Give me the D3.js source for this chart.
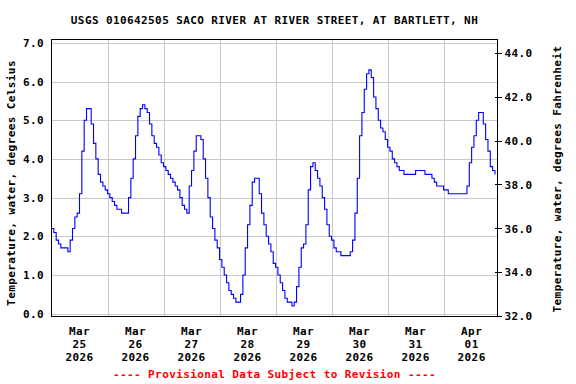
<!DOCTYPE html>
<html>
<head>
<meta charset="utf-8">
<script src="https://cdn.jsdelivr.net/npm/d3@7"></script>
<style>
  html, body { margin: 0; padding: 0; background: #fff; }
  svg { display: block; }
  text { font-family: "DejaVu Sans Mono", "Liberation Mono", monospace; font-weight: bold; font-size: 11px; letter-spacing: 0.4px; }
</style>
</head>
<body>
<svg id="chart" width="576" height="384"></svg>
<script>
// ---- Data ----
const title = "USGS 010642505 SACO RIVER AT RIVER STREET, AT BARTLETT, NH";
const leftAxisTitle = "Temperature, water, degrees Celsius";
const rightAxisTitle = "Temperature, water, degrees Fahrenheit";
const footnote = "---- Provisional Data Subject to Revision ----";

const seriesStart = Date.UTC(2026, 2, 25, 0, 0);   // first reading, Mar 25 2026 00:00
const stepHours = 1;                                 // hourly readings
// Water temperature, degrees Celsius (hourly)
const tempC = [
  2.2, 2.1, 1.9, 1.8, 1.7, 1.7, 1.7, 1.6, 1.9, 2.2, 2.5, 2.6, 3.1, 4.2, 5.0, 5.3,
  5.3, 4.9, 4.4, 4.0, 3.6, 3.4, 3.3, 3.2, 3.1, 3.0, 2.9, 2.8, 2.7, 2.7, 2.6, 2.6,
  2.6, 3.0, 3.5, 4.0, 4.6, 5.1, 5.3, 5.4, 5.3, 5.2, 4.9, 4.6, 4.4, 4.3, 4.1, 3.9,
  3.8, 3.7, 3.6, 3.5, 3.4, 3.3, 3.2, 3.0, 2.8, 2.7, 2.6, 3.3, 3.7, 4.2, 4.6, 4.6,
  4.5, 4.0, 3.5, 3.0, 2.5, 2.2, 1.9, 1.7, 1.4, 1.2, 1.0, 0.8, 0.6, 0.5, 0.4, 0.3,
  0.3, 0.5, 1.0, 1.7, 2.3, 2.8, 3.4, 3.5, 3.5, 3.1, 2.6, 2.3, 2.0, 1.8, 1.6, 1.3,
  1.2, 1.0, 0.8, 0.6, 0.4, 0.3, 0.3, 0.2, 0.3, 0.7, 1.2, 1.7, 1.8, 2.3, 3.2, 3.8,
  3.9, 3.7, 3.5, 3.3, 3.0, 2.7, 2.3, 2.0, 1.9, 1.7, 1.6, 1.6, 1.5, 1.5, 1.5, 1.5,
  1.6, 1.9, 2.6, 3.5, 4.6, 5.2, 5.8, 6.2, 6.3, 6.1, 5.6, 5.3, 5.0, 4.8, 4.7, 4.5,
  4.3, 4.2, 4.0, 3.9, 3.8, 3.7, 3.7, 3.6, 3.6, 3.6, 3.6, 3.6, 3.7, 3.7, 3.7, 3.7,
  3.6, 3.6, 3.6, 3.5, 3.4, 3.3, 3.3, 3.3, 3.2, 3.2, 3.1, 3.1, 3.1, 3.1, 3.1, 3.1,
  3.1, 3.1, 3.3, 3.9, 4.3, 4.6, 5.0, 5.2, 5.2, 4.9, 4.5, 4.2, 3.8, 3.7, 3.6
];

const tickMonths = ["Mar", "Mar", "Mar", "Mar", "Mar", "Mar", "Mar", "Apr"];
const tickDays   = ["25", "26", "27", "28", "29", "30", "31", "01"];
const tickYears  = ["2026", "2026", "2026", "2026", "2026", "2026", "2026", "2026"];
const tickDates = [
  Date.UTC(2026, 2, 25, 12), Date.UTC(2026, 2, 26, 12), Date.UTC(2026, 2, 27, 12),
  Date.UTC(2026, 2, 28, 12), Date.UTC(2026, 2, 29, 12), Date.UTC(2026, 2, 30, 12),
  Date.UTC(2026, 2, 31, 12), Date.UTC(2026, 3, 1, 12)
];
const dayBoundaries = [
  Date.UTC(2026, 2, 26), Date.UTC(2026, 2, 27), Date.UTC(2026, 2, 28),
  Date.UTC(2026, 2, 29), Date.UTC(2026, 2, 30), Date.UTC(2026, 2, 31), Date.UTC(2026, 3, 1)
];
const celsiusTicks = [0, 1, 2, 3, 4, 5, 6, 7];
const fahrenheitTicks = [32, 34, 36, 38, 40, 42, 44];

// ---- Layout ----
const frame = { left: 51.5, right: 497.5, top: 39.5, bottom: 316.5 };
const svg = d3.select("#chart");

const x = d3.scaleUtc()
  .domain([new Date(Date.UTC(2026, 2, 25, 0)), new Date(Date.UTC(2026, 3, 1, 23))])
  .range([51.5, 497.3]);
const yC = d3.scaleLinear().domain([0, 7]).range([313.7, 42.8]);
const yF = d3.scaleLinear().domain([32, 44]).range([316, 52.8]);

const data = tempC.map((v, i) => ({ t: new Date(seriesStart + i * stepHours * 3600e3), v }));

// gridlines
const grid = svg.append("g").attr("stroke", "#c8c8c8").attr("stroke-width", 1).attr("shape-rendering", "crispEdges");
grid.selectAll("line.h").data(celsiusTicks).join("line")
  .attr("x1", frame.left).attr("x2", frame.right)
  .attr("y1", d => Math.round(yC(d)) + 0.5).attr("y2", d => Math.round(yC(d)) + 0.5);
grid.selectAll("line.v").data(dayBoundaries).join("line")
  .attr("y1", frame.top).attr("y2", frame.bottom)
  .attr("x1", d => Math.round(x(new Date(d))) + 0.5).attr("x2", d => Math.round(x(new Date(d))) + 0.5);

// data line
const line = d3.line()
  .x(d => x(d.t))
  .y(d => yC(d.v))
  .curve(d3.curveStepAfter);
svg.append("path")
  .datum(data)
  .attr("fill", "none")
  .attr("stroke", "#0000ff")
  .attr("stroke-width", 1.1)
  .attr("d", line);

// frame
svg.append("rect")
  .attr("x", frame.left).attr("y", frame.top)
  .attr("width", frame.right - frame.left).attr("height", frame.bottom - frame.top)
  .attr("fill", "none").attr("stroke", "#000").attr("stroke-width", 1)
  .attr("shape-rendering", "crispEdges");

// left axis labels
svg.append("g").selectAll("text").data(celsiusTicks).join("text")
  .attr("x", 44).attr("y", d => yC(d) + 4)
  .attr("text-anchor", "end")
  .text(d => d3.format(".1f")(d));

// right axis ticks & labels
const rAxis = svg.append("g").attr("transform", `translate(${frame.right},0)`);
const rightAxis = d3.axisRight(yF).tickValues(fahrenheitTicks).tickSize(4).tickFormat(d3.format(".1f"));
rAxis.call(rightAxis);
rAxis.select(".domain").remove();
rAxis.selectAll(".tick line").attr("x1", -3).attr("x2", 4).attr("stroke", "#000").attr("shape-rendering", "crispEdges");
rAxis.selectAll(".tick text")
  .attr("x", 7).attr("dy", "0.35em")
  .attr("fill", "#000")
  .style("font-family", "DejaVu Sans Mono, monospace").style("font-weight", "bold").style("font-size", "11px");

// x tick labels
const xl = svg.append("g").selectAll("text").data(tickDates).join("text")
  .attr("text-anchor", "middle")
  .attr("transform", d => `translate(${x(new Date(d))},0)`);
xl.append("tspan").attr("x", 0).attr("y", 334.5).text((d, i) => tickMonths[i]);
xl.append("tspan").attr("x", 0).attr("y", 347.5).text((d, i) => tickDays[i]);
xl.append("tspan").attr("x", 0).attr("y", 360.5).text((d, i) => tickYears[i]);

// title
svg.append("text")
  .attr("x", (frame.left + frame.right) / 2).attr("y", 23.5)
  .attr("text-anchor", "middle").text(title);

// axis titles
svg.append("text")
  .attr("transform", `translate(15,${(frame.top + frame.bottom) / 2 + 5}) rotate(-90)`)
  .attr("text-anchor", "middle").text(leftAxisTitle);
svg.append("text")
  .attr("transform", `translate(561,${(frame.top + frame.bottom) / 2 + 1}) rotate(-90)`)
  .attr("text-anchor", "middle").text(rightAxisTitle);

// footnote
svg.append("text")
  .attr("x", (frame.left + frame.right) / 2).attr("y", 377.5)
  .attr("text-anchor", "middle").attr("fill", "#ff0000").text(footnote);
</script>
</body>
</html>
